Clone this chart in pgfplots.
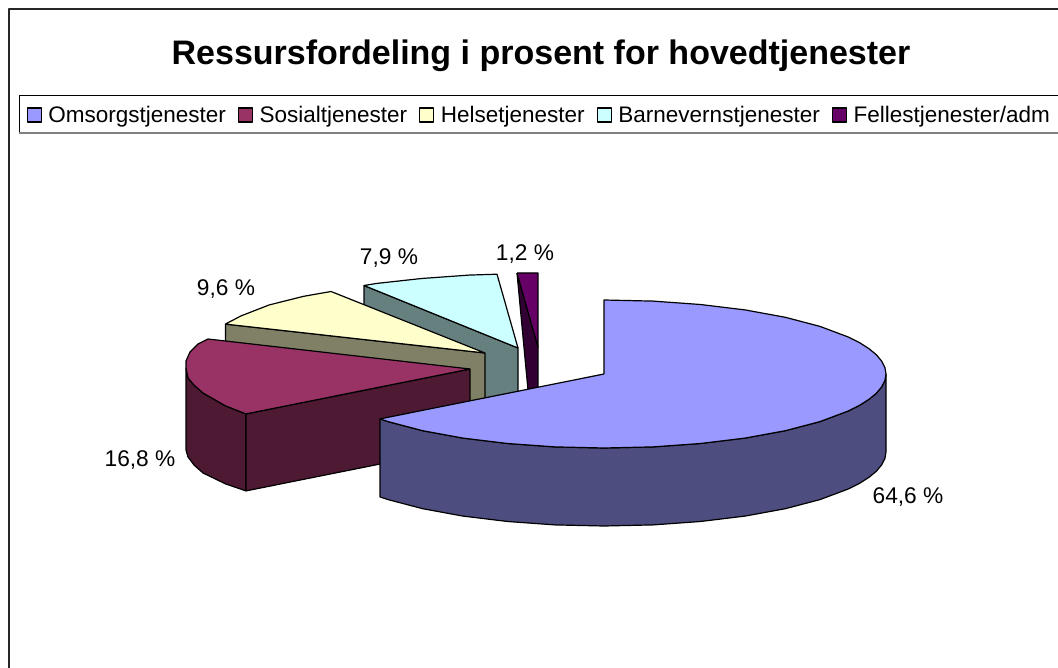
\documentclass[border=0pt]{standalone}
\usepackage{fontspec}
\setmainfont{Liberation Sans}
\usepackage{pgfplots}
\pgfplotsset{compat=1.18}
\definecolor{omsT}{HTML}{9999FF}
\definecolor{omsS}{HTML}{4D4D80}
\definecolor{sosT}{HTML}{993366}
\definecolor{sosS}{HTML}{4D1933}
\definecolor{helT}{HTML}{FFFFCC}
\definecolor{helS}{HTML}{808066}
\definecolor{barT}{HTML}{CCFFFF}
\definecolor{barS}{HTML}{668080}
\definecolor{felT}{HTML}{660066}
\definecolor{felS}{HTML}{330033}
\newcommand{\lab}{\fontsize{22.7}{24}\selectfont}
\newcommand{\legf}{\fontsize{22.5}{24}\selectfont}
\begin{document}
\begin{tikzpicture}[x=1pt,y=1pt]
\useasboundingbox (0,0) rectangle (1058,668);
\clip (0,0) rectangle (1058,668);
\begin{axis}[
  at={(0,0)},anchor=south west,
  scale only axis,width=1058pt,height=668pt,
  xmin=0,xmax=1058,ymin=0,ymax=668,y dir=reverse,
  hide axis,clip=false,
  every axis plot/.append style={line width=1.2pt,line join=round},
  legend columns=5,
  legend image code/.code={\draw[#1,line width=1.2pt] (0pt,-7pt) rectangle (14pt,7pt);},
  legend style={at={(axis cs:19,102)},anchor=north west,draw=none,fill=none,
    font=\legf,inner xsep=7.5pt,inner ysep=2pt,
    /tikz/every odd column/.append style={column sep=4pt},
    /tikz/every even column/.append style={column sep=9.5pt},
    nodes={inner xsep=2.5pt,inner ysep=2pt}},
]
% frame and legend box
\addplot[black!85,forget plot,line width=1.6pt] coordinates {(9,668)(9,9)(1058,9)};
\addplot[black,forget plot,line width=1pt] coordinates {(19,133)(19,96)(1058,96)};
\addplot[gray,forget plot,line width=2.5pt] coordinates {(19,133)(1058,133)};
% Fellestjenester/adm
\addplot[fill=felS,draw=black,forget plot] coordinates {(517,273)(538,347)(538,390)(528,390)(517,273)};
\addplot[fill=felT,draw=black,forget plot] coordinates {(517,273)(538,273)(538,347)(517,273)};
% Barnevernstjenester
\addplot[fill=barS,draw=black,forget plot] coordinates {(364,285.5)(518,348)(518,425)(364,362.5)(364,285.5)};
\addplot[fill=barT,draw=black,forget plot] coordinates {(518,348)(364,285.5)(377,283.4)(421.6,278.5)(469,275.1)(497,274.2)(518,348)};
% Helsetjenester
\addplot[fill=helS,draw=black,forget plot] coordinates {(225.4,324.1)(485,353)(485,430)(225.4,401.1)(225.4,324.1)};
\addplot[fill=helT,draw=black,forget plot] coordinates {(485,353)(225.4,324.1)(240.8,316)(269,305)(303.7,296.3)(331,291.5)(485,353)};
% Sosialtjenester
\addplot[fill=sosS,draw=black,forget plot] coordinates {(186,368)(188,378)(194,385)(203,393)(225.8,406)(246,413.9)(246,490.9)(225.8,484)(203,473)(194,465)(188,457)(186,450)(186,368)};
\addplot[fill=sosS,draw=black,forget plot] coordinates {(246,413.9)(470,369)(470,446)(246,490.9)(246,413.9)};
\addplot[fill=sosT,draw=black,forget plot] coordinates {(470,369)(246,413.9)(225.8,406)(203,393)(194,385)(188,378)(186,368)(186,361)(190,352)(198,344)(208,339)(470,369)};
% Omsorgstjenester
\addplot[fill=omsS,draw=black,forget plot] coordinates {(886,374)(884.9,380.5)(881.7,386.8)(876.4,393.2)(869,399.3)(859.6,405.3)(848.2,411)(820,421.6)(785.3,430.7)(745,438.1)(700.4,443.5)(653,446.9)(604,448)(555,446.9)(507.6,443.5)(463,438.1)(422.7,430.7)(388,421.6)(380,418.9)
  (380,496.9)(388,499.6)(422.7,508.7)(463,516.1)(507.6,521.5)(555,524.9)(604,526)(653,524.9)(700.4,521.5)(745,516.1)(785.3,508.7)(820,499.6)(848.2,489)(859.6,483.3)(869,477.3)(876.4,471.2)(881.7,464.8)(884.9,458.5)(886,452)(886,374)};
\addplot[fill=omsT,draw=black,forget plot] coordinates {(604,374)(604,300)(653,301.1)(700.4,304.5)(745,309.9)(785.3,317.3)(820,326.4)(848.2,337)(859.6,342.7)(869,348.7)(876.4,354.8)(881.7,361.2)(884.9,367.5)(886,374)(884.9,380.5)(881.7,386.8)(876.4,393.2)(869,399.3)(859.6,405.3)(848.2,411)(820,421.6)(785.3,430.7)(745,438.1)(700.4,443.5)(653,446.9)(604,448)(555,446.9)(507.6,443.5)(463,438.1)(422.7,430.7)(388,421.6)(380,418.9)(604,374)};
% legend entries
\addlegendimage{fill=omsT,draw=black}
\addlegendimage{fill=sosT,draw=black}
\addlegendimage{fill=helT,draw=black}
\addlegendimage{fill=barT,draw=black}
\addlegendimage{fill=felT,draw=black}
\legend{Omsorgstjenester,Sosialtjenester,Helsetjenester,Barnevernstjenester,Fellestjenester/adm}
% title and data labels
\node[font=\fontsize{34}{36}\bfseries] at (axis cs:541,56) {Ressursfordeling i prosent for hovedtjenester};
\node[font=\lab] at (axis cs:908,497) {64,6 \%};
\node[font=\lab] at (axis cs:140,460) {16,8 \%};
\node[font=\lab] at (axis cs:226,289) {9,6 \%};
\node[font=\lab] at (axis cs:389,258) {7,9 \%};
\node[font=\lab] at (axis cs:525,254) {1,2 \%};
\end{axis}
\end{tikzpicture}
\end{document}
